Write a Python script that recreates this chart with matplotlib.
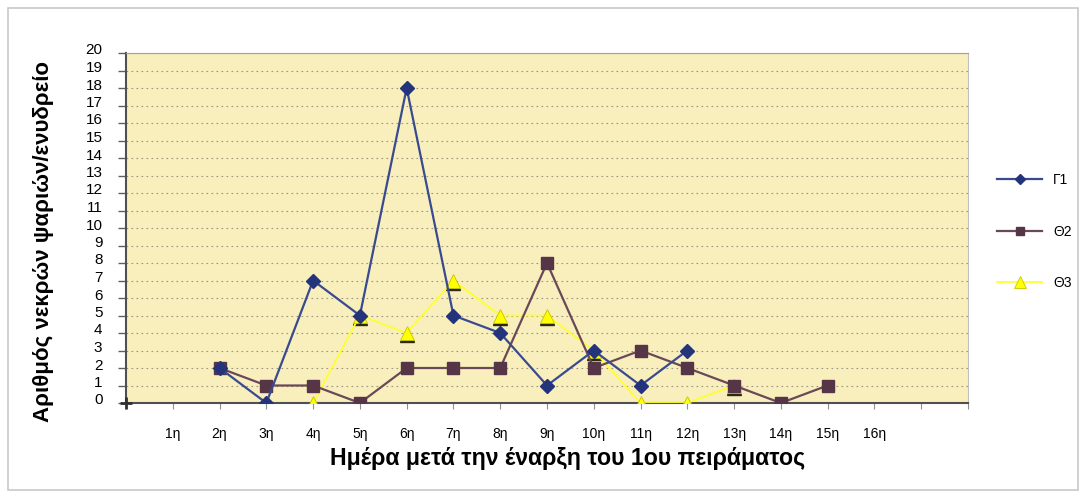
import matplotlib
matplotlib.use("Agg")
import matplotlib.pyplot as plt
import matplotlib.transforms as mtransforms
from matplotlib.patches import Rectangle

# data (day index -> dead fish per tank)
days = list(range(1, 17))
day_labels = [f"{d}η" for d in days]

g1_x = [2, 3, 4, 5, 6, 7, 8, 9, 10, 11, 12]
g1_y = [2, 0, 7, 5, 18, 5, 4, 1, 3, 1, 3]

t2_x = [2, 3, 4, 5, 6, 7, 8, 9, 10, 11, 12, 13, 14, 15]
t2_y = [2, 1, 1, 0, 2, 2, 2, 8, 2, 3, 2, 1, 0, 1]

t3_x = [4, 5, 6, 7, 8, 9, 10, 11, 12, 13]
t3_y = [0, 5, 4, 7, 5, 5, 3, 0, 0, 1]

plt.rcParams['font.family'] = ['Liberation Sans', 'DejaVu Sans']

fig = plt.figure(figsize=(10.86, 4.97), dpi=100)
fig.patch.set_facecolor('white')
fig.patches.append(Rectangle((8 / 1086, 1 - 490 / 497), 1070 / 1086, 482 / 497,
                             transform=fig.transFigure, fill=False,
                             edgecolor='#c8c8c8', linewidth=1.2))

ax = fig.add_axes([126 / 1086, 1 - 403 / 497, 842 / 1086, 350 / 497])
ax.set_facecolor('#f8efbd')

# dark shadow under the yellow triangles
shadow = ax.transData + mtransforms.ScaledTranslation(0, -2 / 100, fig.dpi_scale_trans)
ax.plot(t3_x, t3_y, linestyle='none', marker='^', markersize=10,
        markerfacecolor='#2a2a10', markeredgecolor='#2a2a10', transform=shadow,
        zorder=2.9)
ax.plot(t3_x, t3_y, color='#ffff30', linewidth=1.3, marker='^', markersize=10,
        markerfacecolor='#ffff00', markeredgecolor='#c8c800', markeredgewidth=0.6,
        label='Θ3', zorder=3)
ax.plot(t2_x, t2_y, color='#6a4858', linewidth=1.6, marker='s', markersize=8,
        markerfacecolor='#563646', markeredgecolor='#563646', label='Θ2', zorder=4)
ax.plot(g1_x, g1_y, color='#3a4a90', linewidth=1.6, marker='D', markersize=7,
        markerfacecolor='#24347a', markeredgecolor='#24347a', label='Γ1', zorder=5)
ax.plot([0], [0], marker='+', color='#303030', markersize=9, markeredgewidth=2,
        clip_on=False, zorder=6)

ax.set_xlim(0, 18)
ax.set_ylim(0, 20)
ax.set_yticks(range(0, 21))
ax.set_xticks(range(0, 19))
ax.set_xticklabels([''] + day_labels + ['', ''], fontsize=10)
ax.tick_params(axis='y', direction='out', length=6, width=1, color='#606060',
               labelsize=11, pad=11)
ax.tick_params(axis='x', direction='out', length=4, width=0.8, color='#909090',
               labelsize=10, pad=13)
# tick labels sit a little above their ticks in the original
offset = mtransforms.ScaledTranslation(0, 4 / 100, fig.dpi_scale_trans)
for lab in ax.get_yticklabels():
    lab.set_transform(lab.get_transform() + offset)

ax.yaxis.grid(True, linestyle=(0, (1.5, 3)), color='#9a9480', linewidth=0.8)
ax.set_axisbelow(True)
ax.spines['left'].set_color('#505050')
ax.spines['left'].set_linewidth(1.5)
ax.spines['bottom'].set_color('#505050')
ax.spines['bottom'].set_linewidth(1.5)
ax.spines['top'].set_color('#a0a0a0')
ax.spines['right'].set_color('#c0c0c0')

ax.set_ylabel('Αριθμός νεκρών ψαριών/ενυδρείο', fontsize=16, fontweight='bold')
ax.yaxis.set_label_coords(-0.0855, 0.46)
ax.set_xlabel('Ημέρα μετά την έναρξη του 1ου πειράματος', fontsize=16.7,
              fontweight='bold')
ax.xaxis.set_label_coords(0.524, -0.125)

handles, labels = ax.get_legend_handles_labels()
order = [2, 1, 0]
ax.legend([handles[i] for i in order], [labels[i] for i in order],
          loc='center left', bbox_to_anchor=(1.02, 0.49), frameon=False,
          fontsize=10, labelspacing=2.7, handlelength=3.2, markerscale=0.8)

fig.savefig('out.png', dpi=100)
